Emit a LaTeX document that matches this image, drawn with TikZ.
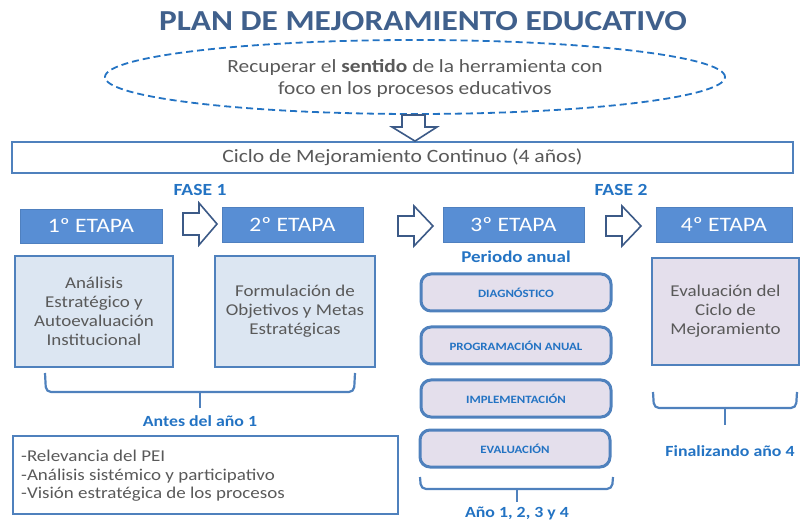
\documentclass[tikz,border=0pt]{standalone}
\usepackage{fontspec}
\setmainfont{Carlito}[FakeStretch=1.15]
\usetikzlibrary{shapes.geometric}
\definecolor{titlec}{RGB}{64,96,140}
\definecolor{accent}{RGB}{35,115,195}
\definecolor{etapaf}{RGB}{88,142,212}
\definecolor{bord}{RGB}{79,129,189}
\definecolor{lightf}{RGB}{220,230,242}
\definecolor{lav}{RGB}{228,223,236}
\definecolor{txt}{RGB}{89,89,89}
\definecolor{arrc}{RGB}{60,90,135}
\tikzset{
  etapabox/.style={fill=etapaf, draw=etapaf!90!black, line width=0.6pt, text=white, font=\fontsize{20.5}{22}\selectfont, inner sep=0pt},
  contentbox/.style={fill=lightf, draw=bord, line width=2pt, text=txt, align=center, font=\fontsize{16.5}{19}\selectfont, inner sep=0pt},
  lavbox/.style={fill=lav, draw=bord, line width=2pt, text=txt, align=center, font=\fontsize{16.5}{19}\selectfont, inner sep=0pt},
  roundbox/.style={fill=lav, draw=bord, line width=3pt, rounded corners=10pt, text=accent, font=\bfseries\fontsize{11.2}{12}\selectfont, inner sep=0pt, minimum width=190pt, minimum height=37pt},
  hollowarrow/.style={draw=arrc, line width=1.6pt, fill=white, line join=miter},
  bracec/.style={draw=bord, line width=2.2pt, rounded corners=5pt},
  accentlabel/.style={text=accent, font=\bfseries\fontsize{15.5}{17}\selectfont, inner sep=0pt},
}
\begin{document}
\begin{tikzpicture}[x=1pt,y=-1pt]
\useasboundingbox (0,0) rectangle (801,521);
% title
\node[text=titlec, font=\bfseries\fontsize{29}{31}\selectfont, inner sep=0pt] (title) at (423,21) {PLAN DE MEJORAMIENTO EDUCATIVO};
% ellipse
\node[draw=accent, dash pattern=on 7pt off 4pt, line width=1.8pt, ellipse, minimum width=620pt, minimum height=74pt, inner sep=0pt] (ell) at (415,77) {};
\node[text=txt, align=center, font=\fontsize{18.6}{22}\selectfont, inner sep=0pt] (elltext) at (415,78) {Recuperar el \textbf{sentido} de la herramienta con\\foco en los procesos educativos};
% ciclo box
\node[draw=bord, line width=1.8pt, minimum width=781pt, minimum height=31pt, inner sep=0pt, text=txt, font=\fontsize{18.8}{20}\selectfont] (ciclo) at (402.5,157.5) {Ciclo de Mejoramiento Continuo (4 años)};
% down arrow
\draw[hollowarrow] (402,115) -- (425,115) -- (425,127) -- (437,127) -- (ciclo.north -| 415,0) -- (392,127) -- (402,127) -- cycle;
% fases
\node[accentlabel, font=\bfseries\fontsize{17}{18}\selectfont] (fase1) at (200,190) {FASE 1};
\node[accentlabel, font=\bfseries\fontsize{17}{18}\selectfont] (fase2) at (621,190) {FASE 2};
% etapas
\node[etapabox, minimum width=142pt, minimum height=34pt] (e1) at (91,226) {1º ETAPA};
\node[etapabox, minimum width=141pt, minimum height=35pt] (e2) at (292.5,224.5) {2º ETAPA};
\node[etapabox, minimum width=141pt, minimum height=35pt] (e3) at (513.5,224.5) {3º ETAPA};
\node[etapabox, minimum width=136pt, minimum height=35pt] (e4) at (724,224.5) {4º ETAPA};
% arrows between etapas
\draw[hollowarrow] (183,213) -- (199,213) -- (199,203) -- (217,224) -- (199,245) -- (199,235) -- (183,235) -- cycle;
\draw[hollowarrow] (398,216) -- (414,216) -- (414,206) -- (433,226) -- (414,246) -- (414,236) -- (398,236) -- cycle;
\draw[hollowarrow] (606,216) -- (622,216) -- (622,206) -- (641,226) -- (622,246) -- (622,236) -- (606,236) -- cycle;
% content boxes
\node[contentbox, minimum width=158pt, minimum height=111pt] (c1) at (94,311.5) {Análisis\\Estratégico y\\Autoevaluación\\Institucional};
\node[contentbox, minimum width=160pt, minimum height=111pt] (c2) at (295,311.5) {Formulación de\\Objetivos y Metas\\Estratégicas};
\node[lavbox, minimum width=147pt, minimum height=107pt] (c4) at (725.5,311.5) {Evaluación del\\Ciclo de\\Mejoramiento};
% periodo anual
\node[accentlabel, font=\bfseries\fontsize{16.5}{18}\selectfont] (periodo) at (516,257) {Periodo anual};
\node[roundbox] (r1) at (516,292.5) {DIAGNÓSTICO};
\node[roundbox] (r2) at (516,345.5) {PROGRAMACIÓN ANUAL};
\node[roundbox] (r3) at (516,398.5) {IMPLEMENTACIÓN};
\node[roundbox] (r4) at (515,448.5) {EVALUACIÓN};
% braces
\coordinate (b1l) at (45,373); \coordinate (b1r) at (355,373); \coordinate (b1t) at (200,408);
\draw[bracec] (b1l) -- (46,392) -- (354,392) -- (b1r);
\draw[draw=bord, line width=2.2pt] (200,391) -- (b1t);
\node[accentlabel] (antes) at (200,421) {Antes del año 1};
\coordinate (b2l) at (420,477); \coordinate (b2r) at (613,477); \coordinate (b2t) at (517,502);
\draw[bracec] (b2l) -- (421,489) -- (612,489) -- (b2r);
\draw[draw=bord, line width=2.2pt] (517,488) -- (b2t);
\node[accentlabel] (anios) at (517,513) {Año 1, 2, 3 y 4};
\coordinate (b3l) at (653,392); \coordinate (b3r) at (797,392); \coordinate (b3t) at (725,425);
\draw[bracec] (b3l) -- (654,408) -- (796,408) -- (b3r);
\draw[draw=bord, line width=2.2pt] (725,407) -- (b3t);
\node[accentlabel] (final) at (730,451) {Finalizando año 4};
% list box
\node[draw=bord, line width=1.8pt, minimum width=385pt, minimum height=78pt, inner sep=0pt] (list) at (205.5,475) {};
\node[anchor=west, text=txt, align=left, font=\fontsize{16.5}{18.5}\selectfont, inner sep=0pt] (listtext) at (21,476) {-Relevancia del PEI\\-Análisis sistémico y participativo\\-Visión estratégica de los procesos};
\end{tikzpicture}
\end{document}
